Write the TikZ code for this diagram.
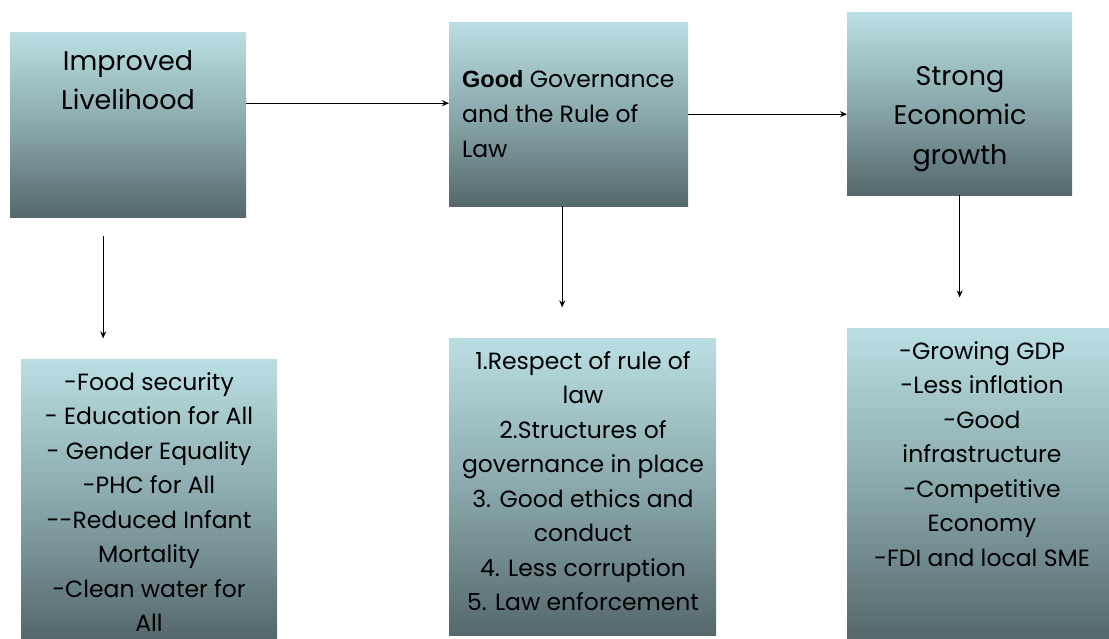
\documentclass[tikz,border=0pt]{standalone}
\usepackage{fontspec}
\setmainfont{Poppins}
\newfontfamily\plainsans{Liberation Sans}
\usetikzlibrary{arrows.meta}
\definecolor{boxtop}{HTML}{BADFE2}
\definecolor{boxmid}{HTML}{8AA9AC}
\definecolor{boxbot}{HTML}{55686B}
\tikzset{
  panel/.style={rectangle, inner sep=0pt, anchor=north west,
    top color=boxtop, bottom color=boxbot, middle color=boxmid},
  bigtext/.style={inner sep=0pt, align=center, font=\fontsize{27}{39.5}\selectfont},
  midtext/.style={inner sep=0pt, align=left, font=\fontsize{23.5}{35}\selectfont},
  listtext/.style={inner sep=0pt, align=center, font=\fontsize{23.5}{34.5}\selectfont},
  arr/.style={-{Stealth[length=7pt,width=6pt]}, line width=1.1pt, black}
}
\begin{document}
\begin{tikzpicture}[x=1pt,y=-1pt]
\useasboundingbox (0,0) rectangle (1109,639);
\fill[white] (0,0) rectangle (1109,639);

% upper row of boxes
\node[panel, minimum width=236pt, minimum height=185pt] (A) at (10,32) {};
\node[panel, minimum width=239pt, minimum height=184pt] (B) at (449,22) {};
\node[panel, minimum width=225pt, minimum height=183pt] (C) at (847,12) {};

% lower row of boxes
\node[panel, minimum width=256pt, minimum height=280pt] (D) at (21,359) {};
\node[panel, minimum width=267pt, minimum height=297pt] (E) at (449,338) {};
\node[panel, minimum width=262pt, minimum height=311pt] (F) at (847,328) {};

% titles
\node[bigtext, anchor=north] (tA) at (128,50) {Improved\\Livelihood};
\node[midtext, anchor=north west] (tB) at (462,70) {{\plainsans\bfseries Good} Governance\\and the Rule of\\Law};
\node[bigtext, anchor=north] (tC) at (960,66) {Strong\\Economic\\growth};

% lists
\node[listtext, anchor=north] (tD) at (149,372) {-Food security\\- Education for All\\- Gender Equality\\-PHC for All\\-{}-Reduced Infant\\Mortality\\-Clean water for\\All};
\node[listtext, anchor=north] (tE) at (583,351) {1.Respect of rule of\\law\\2.Structures of\\governance in place\\3. Good ethics and\\conduct\\4. Less corruption\\5. Law enforcement};
\node[listtext, anchor=north] (tF) at (982,341) {-Growing GDP\\-Less inflation\\-Good\\infrastructure\\-Competitive\\Economy\\-FDI and local SME};

% connectors
\draw[arr] ([yshift=21.5pt]A.east) -- ([yshift=21.5pt]A.east -| B.west);
\draw[arr] (B.east) -- (B.east -| C.west);
\draw[arr] ([xshift=-25pt,yshift=-19pt]A.south) -- ++(0,102);
\draw[arr] ([xshift=-6.5pt]B.south) -- ++(0,101);
\draw[arr] (C.south) -- ++(0,102);
\end{tikzpicture}
\end{document}
